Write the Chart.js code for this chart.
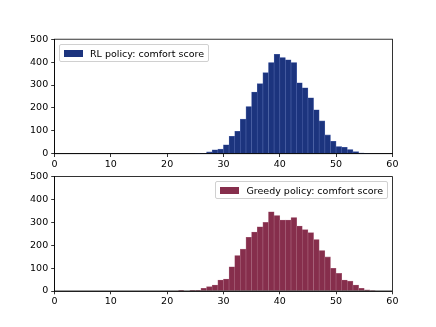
<!DOCTYPE html>
<html>
<head>
<meta charset="utf-8">
<script src="https://cdn.jsdelivr.net/npm/chart.js@4"></script>
<style>
  body { margin: 0; background: #fff; }
  #wrap { position: relative; width: 436px; height: 327px; font-family: "DejaVu Sans", sans-serif; }
  canvas { position: absolute; left: 0; top: 0; }
  .legend {
    position: absolute; box-sizing: border-box; height: 18px;
    display: flex; align-items: center; padding: 0 4px;
    border: 1px solid #d0d0d0; border-radius: 2px; background: rgba(255,255,255,0.8);
    font-size: 9.5px; color: #000; white-space: nowrap;
  }
  .legend span.sw { display: inline-block; width: 19px; height: 7px; margin-right: 7px; }
</style>
</head>
<body>
<div id="wrap">
  <canvas id="topChart" width="436" height="327"></canvas>
  <canvas id="bottomChart" width="436" height="327"></canvas>
  <div class="legend" style="left:59px; top:44px;"><span class="sw" style="background:#1c347e"></span>RL policy: comfort score</div>
  <div class="legend" style="right:48px; top:181px;"><span class="sw" style="background:#862e4c"></span>Greedy policy: comfort score</div>
</div>
<script>
// histogram bins (left edges, width 1)
const binStarts = [20, 21, 22, 23, 24, 25, 26, 27, 28, 29, 30, 31, 32, 33, 34, 35, 36, 37, 38, 39,
                   40, 41, 42, 43, 44, 45, 46, 47, 48, 49, 50, 51, 52, 53, 54, 55, 56, 57, 58, 59];

// RL policy counts
const rlCounts = [0, 0, 0, 0, 0, 1, 2, 8, 17, 20, 39, 76, 98, 151, 206, 269, 306, 354, 398, 434,
                  420, 410, 398, 310, 288, 244, 192, 143, 82, 54, 31, 28, 18, 9, 3, 1, 0, 0, 0, 0];

// Greedy policy counts
const greedyCounts = [0, 0, 3, 0, 1, 3, 12, 19, 26, 48, 52, 106, 155, 183, 235, 258, 281, 300, 346, 330,
                      310, 310, 321, 284, 268, 255, 225, 177, 149, 99, 77, 48, 43, 26, 12, 5, 2, 0, 0, 0];

const xTicks = [0, 10, 20, 30, 40, 50, 60];
const yTicks = [0, 100, 200, 300, 400, 500];

// draw the top and right spines like matplotlib
const framePlugin = {
  id: 'frame',
  afterDraw(chart) {
    const a = chart.chartArea;
    const ctx = chart.ctx;
    ctx.save();
    ctx.strokeStyle = '#000';
    ctx.lineWidth = 0.8;
    ctx.strokeRect(a.left, a.top, a.right - a.left, a.bottom - a.top);
    ctx.restore();
  }
};

function makeHist(canvasId, counts, color, edge, padTop, padBottom) {
  const ctx = document.getElementById(canvasId).getContext('2d');
  new Chart(ctx, {
    type: 'bar',
    data: {
      datasets: [{
        data: binStarts.map((b, i) => ({ x: b + 0.5, y: counts[i] })),
        backgroundColor: color,
        borderColor: edge,
        borderWidth: 0.6,
        barPercentage: 1,
        categoryPercentage: 1
      }]
    },
    options: {
      responsive: false,
      animation: false,
      layout: { padding: { left: 14.5, right: 43.6, top: padTop, bottom: padBottom } },
      plugins: { legend: { display: false }, tooltip: { enabled: false } },
      scales: {
        x: {
          type: 'linear',
          min: 0,
          max: 60,
          offset: false,
          afterBuildTicks: (scale) => { scale.ticks = xTicks.map(v => ({ value: v })); },
          afterFit: (scale) => { scale.height = 20; },
          grid: { offset: false, drawOnChartArea: false, tickLength: 3.3, color: '#000', lineWidth: 0.8 },
          border: { display: true, color: '#000', width: 0.8 },
          ticks: { color: '#000', padding: 2, maxRotation: 0, font: { family: 'DejaVu Sans', size: 9.5 } }
        },
        y: {
          min: 0,
          max: 500,
          afterBuildTicks: (scale) => { scale.ticks = yTicks.map(v => ({ value: v })); },
          afterFit: (scale) => { scale.width = 40; },
          grid: { drawOnChartArea: false, tickLength: 3.3, color: '#000', lineWidth: 0.8 },
          border: { display: true, color: '#000', width: 0.8 },
          ticks: { color: '#000', padding: 3, font: { family: 'DejaVu Sans', size: 9.5 } }
        }
      }
    },
    plugins: [framePlugin]
  });
}

makeHist('topChart', rlCounts, '#1c347e', '#4d63a8', 39.2, 327 - 153.7 - 20);
makeHist('bottomChart', greedyCounts, '#862e4c', '#a8657c', 176.6, 327 - 291 - 20);
</script>
</body>
</html>
